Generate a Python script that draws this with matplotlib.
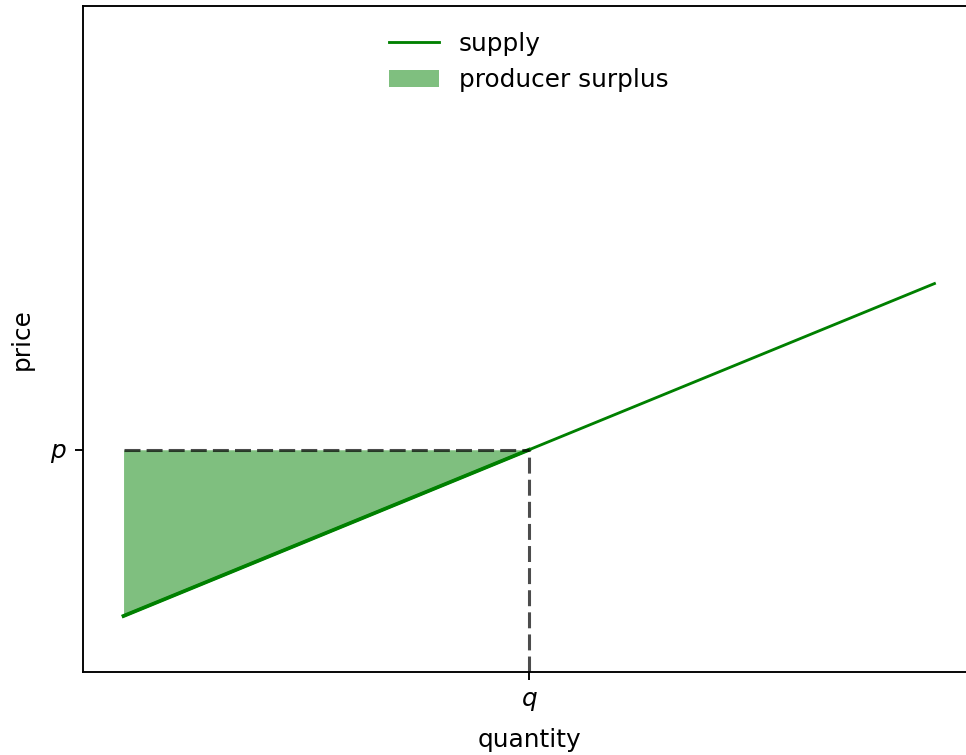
import numpy as np
from matplotlib import pyplot as plt

# supply curve points (quantity, price)
quantity = [0, 10]
supply_price = [1.0, 3.0]
# equilibrium
q_eq = 5
p_eq = 2.0
# part of the supply curve below equilibrium
fill_quantity = [0, 5]
fill_price = [1.0, 2.0]

plt.rcParams["font.size"] = 10.5

fig = plt.figure(figsize=(966 / 170, 755 / 170), dpi=170)
ax = fig.add_axes([83 / 966, 83 / 755, (975 - 83) / 966, (672 - 6) / 755])

ax.plot(quantity, supply_price, color="green", lw=1.2, label="supply")
ax.fill_between(fill_quantity, fill_price, p_eq, color="green", alpha=0.5,
                lw=0, label="producer surplus")
# fill edge along the curve makes it look a bit heavier there
ax.plot(fill_quantity, fill_price, color="green", lw=1.6)

dash = (0, (5.2, 2.0))
ax.hlines(p_eq, fill_quantity[0], q_eq, colors="k", linestyles=[dash], lw=1.3, alpha=0.7)
ax.vlines(q_eq, 0.66, p_eq, colors="k", linestyles=[dash], lw=1.3, alpha=0.7)

ax.set_xlim(-0.5, 10.5)
ax.set_ylim(0.663, 4.67)
ax.set_xticks([q_eq])
ax.set_xticklabels(["$q$"])
ax.set_yticks([p_eq])
ax.set_yticklabels(["$p$"])
ax.set_xlabel("quantity", labelpad=6.5)
ax.set_ylabel("price", labelpad=7)
ax.legend(loc="upper center", frameon=False, bbox_to_anchor=(0.5, 0.995))

fig.savefig("out.png", dpi=170)
